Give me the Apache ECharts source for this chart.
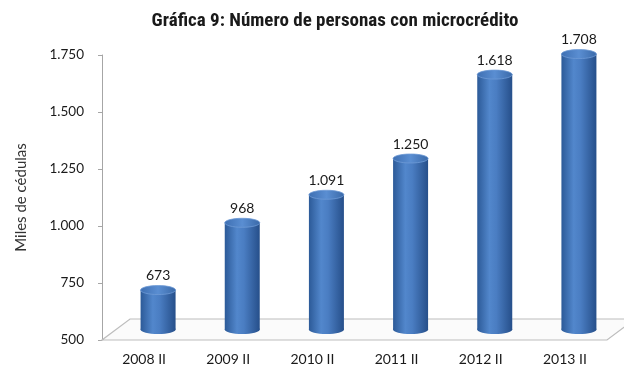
<!DOCTYPE html>
<html>
<head>
<meta charset="utf-8">
<script src="https://cdn.jsdelivr.net/npm/echarts@6/dist/echarts.min.js"></script>
<style>
  html, body { margin: 0; padding: 0; background: #fff; }
  #chart { width: 624px; height: 372px; }
</style>
</head>
<body>
<div id="chart"></div>
<script>
// Número de personas con microcrédito (miles de cédulas), segundo trimestre de cada año
const categories = ['2008 II', '2009 II', '2010 II', '2011 II', '2012 II', '2013 II'];
const personas = [673, 968, 1091, 1250, 1618, 1708];
const yTicks = { min: 500, max: 1750, interval: 250 };

// Spanish thousands separator: 1708 -> "1.708"
function fmt(v) {
  return String(Math.round(v)).replace(/\B(?=(\d{3})+(?!\d))/g, '.');
}

const DEPTH_X = 28, DEPTH_Y = -21;   // depth of the floor plane
const BAR_W = 35, BAR_RY = 4.5;      // cylinder width and ellipse radius

const bodyFill = new echarts.graphic.LinearGradient(0, 0, 1, 0, [
  { offset: 0, color: '#2c5a98' },
  { offset: 0.35, color: '#5287cc' },
  { offset: 0.55, color: '#4a7dc2' },
  { offset: 1, color: '#264f8a' }
]);
const capFill = new echarts.graphic.LinearGradient(0, 0, 1, 0, [
  { offset: 0, color: '#3e6fb2' },
  { offset: 0.5, color: '#5a8ed2' },
  { offset: 1, color: '#3a69a8' }
]);

const chart = echarts.init(document.getElementById('chart'));
chart.setOption({
  backgroundColor: '#fff',
  animation: false,
  title: {
    text: 'Gráfica 9: Número de personas con microcrédito',
    left: 330,
    textAlign: 'center',
    top: 7,
    textStyle: {
      fontFamily: "'Liberation Sans Narrow', 'Roboto Condensed', 'DejaVu Sans Condensed', sans-serif",
      fontWeight: 'bold',
      fontSize: 19,
      color: '#1a1a1a'
    }
  },
  grid: { left: 102, right: 17, top: 55, bottom: 32 },
  xAxis: {
    type: 'category',
    data: categories,
    axisLine: { show: false },
    axisTick: { show: false },
    axisLabel: {
      margin: 12,
      fontFamily: 'Lato, sans-serif',
      fontSize: 14,
      color: '#1a1a1a'
    }
  },
  yAxis: {
    type: 'value',
    min: yTicks.min,
    max: yTicks.max,
    interval: yTicks.interval,
    name: 'Miles de cédulas',
    nameLocation: 'middle',
    nameGap: 73,
    nameTextStyle: {
      fontFamily: 'Lato, sans-serif',
      fontSize: 15,
      color: '#333'
    },
    axisLine: { show: true, lineStyle: { color: '#a6a6a6', width: 1 } },
    axisTick: { show: true, length: 4, lineStyle: { color: '#a6a6a6' } },
    splitLine: { show: false },
    axisLabel: {
      margin: 18,
      fontFamily: 'Lato, sans-serif',
      fontSize: 13.5,
      color: '#1a1a1a',
      formatter: fmt
    }
  },
  series: [
    {
      // floor plane of the 3D plot area
      type: 'custom',
      z: 1,
      silent: true,
      clip: false,
      data: [[0, yTicks.min]],
      renderItem: function (params) {
        const cs = params.coordSys;
        const yb = cs.y + cs.height;
        return {
          type: 'polygon',
          shape: {
            points: [
              [cs.x, yb],
              [cs.x + cs.width, yb],
              [cs.x + cs.width + DEPTH_X, yb + DEPTH_Y],
              [cs.x + DEPTH_X, yb + DEPTH_Y]
            ]
          },
          style: { fill: '#fbfbfb', stroke: '#bdbdbd', lineWidth: 1.2 }
        };
      }
    },
    {
      // cylinders
      type: 'custom',
      z: 3,
      clip: false,
      data: personas.map(function (v, i) { return [i, v]; }),
      encode: { x: 0, y: 1 },
      renderItem: function (params, api) {
        const v = api.value(1);
        const top = api.coord([api.value(0), v]);
        const base = api.coord([api.value(0), yTicks.min]);
        const cx = top[0] + DEPTH_X / 2;
        const yTop = top[1] + DEPTH_Y / 2;
        const yBot = base[1] + DEPTH_Y / 2;
        return {
          type: 'group',
          children: [
            {
              type: 'ellipse',
              shape: { cx: cx, cy: yBot, rx: BAR_W / 2, ry: BAR_RY },
              style: { fill: bodyFill }
            },
            {
              type: 'rect',
              shape: { x: cx - BAR_W / 2, y: yTop, width: BAR_W, height: yBot - yTop },
              style: { fill: bodyFill }
            },
            {
              type: 'ellipse',
              shape: { cx: cx, cy: yTop, rx: BAR_W / 2, ry: BAR_RY },
              style: { fill: capFill, stroke: '#6f9bd6', lineWidth: 0.8 }
            },
            {
              type: 'text',
              style: {
                text: fmt(v),
                x: cx,
                y: yTop - BAR_RY - 3,
                align: 'center',
                verticalAlign: 'bottom',
                fontFamily: 'Lato, sans-serif',
                fontSize: 14,
                fill: '#1a1a1a'
              }
            }
          ]
        };
      }
    }
  ]
});
</script>
</body>
</html>
